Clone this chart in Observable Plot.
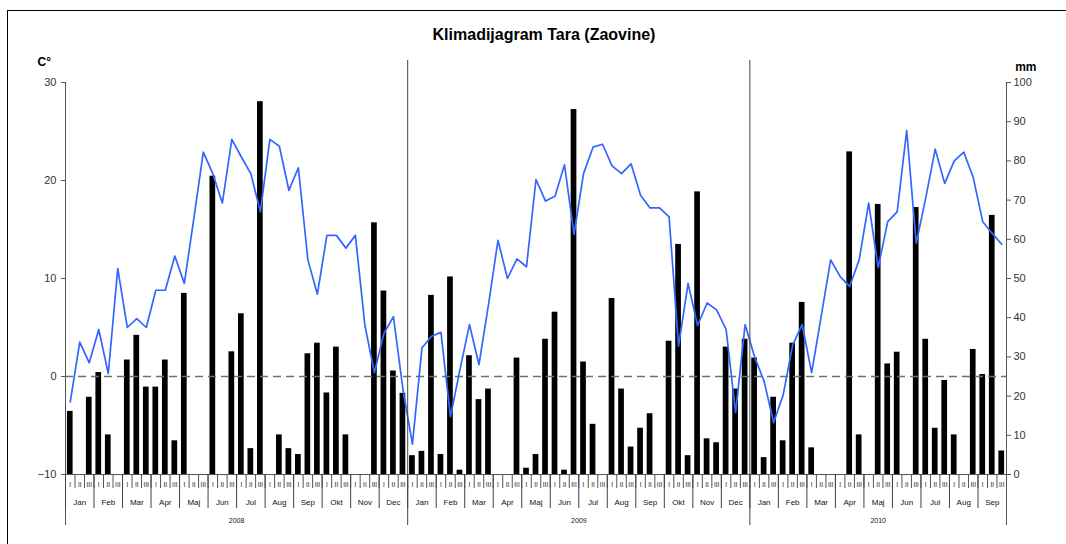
<!DOCTYPE html>
<html><head><meta charset="utf-8">
<script src="https://cdn.jsdelivr.net/npm/d3@7"></script>
<script src="https://cdn.jsdelivr.net/npm/@observablehq/plot@0.6"></script>
<style>
body{margin:0;background:#fff;overflow:hidden;width:1066px;height:544px;position:relative;font-family:"Liberation Sans",Arial,sans-serif;}
#frame{position:absolute;left:7px;top:10px;width:1100px;height:600px;border:1px solid #000;box-sizing:border-box;}
#title{position:absolute;top:26px;left:0;width:1088px;text-align:center;font-weight:bold;font-size:16px;color:#000;}
#chart{position:absolute;left:0;top:50px;}
</style></head><body>
<div id="frame"></div>
<div id="title">Klimadijagram Tara (Zaovine)</div>
<div id="chart"></div>
<script>
// Dekad (10-day) mean temperature, °C
const temp2008 = [-2.6,3.5,1.4, 4.8,0.3,11.0, 5.0,5.9,5.0, 8.8,8.8,12.3, 9.5,16.1,22.9, 20.7,17.7,24.2, 22.4,20.7,16.8, 24.2,23.5,19.0, 21.3,11.9,8.4, 14.4,14.4,13.1, 14.4,5.2,0.4, 4.4,6.1,-1.3];
const temp2009 = [-6.9,2.9,4.1, 4.5,-4.1,0.7, 5.3,1.2,7.3, 13.9,10.0,12.0, 11.2,20.1,17.9, 18.4,21.6,14.5, 20.7,23.4,23.7, 21.5,20.7,21.7, 18.5,17.2,17.2, 16.3,3.1,9.5, 5.2,7.5,6.8, 4.8,-3.7,5.3];
const temp2010 = [2.0,-0.5,-4.7, -1.9,3.2,5.3, 0.4,6.1,11.9, 10.2,9.2,11.9, 17.7,11.1,15.8, 16.8,25.1,13.6, 18.2,23.2,19.7, 22.0,22.9,20.3, 15.8,14.6,13.5];
// Dekad precipitation, mm
const prec2008 = [16.1,0,19.7, 26.0,10.1,0, 29.2,35.5,22.3, 22.3,29.2,8.6, 46.2,0,0, 76.1,0,31.3, 41.0,6.6,95.1, 0,10.1,6.6, 5.1,30.8,33.5, 20.8,32.5,10.1, 0,0,64.2, 46.8,26.4,20.7];
const prec2009 = [4.8,5.9,45.7, 5.1,50.4,1.1, 30.3,19.1,21.8, 0,0,29.7, 1.6,5.1,34.5, 41.4,1.1,93.1, 28.7,12.8,0, 44.9,21.8,7.0, 11.8,15.5,0, 34.0,58.7,4.8, 72.1,9.1,8.1, 32.5,21.8,34.5];
const prec2010 = [29.7,4.3,19.7, 8.6,33.5,43.9, 6.8,0,0, 0,82.3,10.1, 0,68.9,28.2, 31.2,0,68.1, 34.5,11.8,24.0, 10.1,0,31.9, 25.5,66.1,6.0];
// Axis labels
const monthNames = ["Jan","Feb","Mar","Apr","Maj","Jun","Jul","Aug","Sep","Okt","Nov","Dec"];
const dekadNames = ["I","II","III"];
const years = ["2008","2009","2010"];
const monthsPerYear = [12,12,9];
const tempTicks = [-10,0,10,20,30];
const mmTicks = [0,10,20,30,40,50,60,70,80,90,100];

const temps = [...temp2008, ...temp2009, ...temp2010];
const precs = [...prec2008, ...prec2009, ...prec2010];
const rows = temps.map((t, i) => ({i, t, mm: precs[i]}));
const N = rows.length;

const mmToT = mm => mm / 2.5 - 10;
const tToMm = t => Math.round((t + 10) * 2.5);
const PXT = 9.8; // pixels per °C
const below = px => -10 - px / PXT;
const above = px => 30 + px / PXT;

const months = [];
const yearInfo = [];
let m0 = 0;
years.forEach((y, yi) => {
  yearInfo.push({label: y, start: m0 * 3, len: monthsPerYear[yi] * 3});
  for (let k = 0; k < monthsPerYear[yi]; k++) { months.push({label: monthNames[k], start: m0 * 3}); m0++; }
});
const monthBounds = months.map(d => d.start);
const yearInner = yearInfo.slice(1).map(d => d.start);

const chart = Plot.plot({
  width: 1066, height: 490,
  marginLeft: 65, marginRight: 60, marginTop: 32, marginBottom: 66,
  style: {fontFamily: '"Liberation Sans", Arial, sans-serif', background: "transparent", overflow: "visible"},
  x: {type: "linear", domain: [0, N], axis: null},
  y: {domain: [-10, 30], axis: null},
  marks: [
    Plot.rect(rows.filter(d => d.mm > 0), {x1: d => d.i + 0.2, x2: d => d.i + 0.8, y1: -10, y2: d => mmToT(d.mm), fill: "#000"}),
    Plot.ruleY([0], {stroke: "#6f6f6f", strokeWidth: 1.3, strokeDasharray: "8,5"}),
    Plot.line(rows, {x: d => d.i + 0.5, y: "t", stroke: "#3366ff", strokeWidth: 1.7}),
    Plot.ruleY([-10], {x1: 0, x2: N, stroke: "#555"}),
    Plot.ruleX([0, N], {y1: 30, y2: below(51), stroke: "#555"}),
    Plot.ruleX(yearInner, {y1: above(22), y2: below(51), stroke: "#444"}),
    Plot.ruleX(d3.range(0, N + 1), {y1: -10, y2: below(14), stroke: "#555"}),
    Plot.ruleX(monthBounds, {y1: -10, y2: below(34), stroke: "#444"}),
    Plot.axisY({anchor: "left", label: null, ticks: tempTicks, tickSize: 4, tickPadding: 5, fontSize: 11, stroke: "#555", fill: "#333"}),
    Plot.axisY({anchor: "right", label: null, ticks: mmTicks.map(mmToT), tickFormat: tToMm, tickSize: 4, tickPadding: 3, fontSize: 11, stroke: "#555", fill: "#333"}),
    Plot.text(rows, {x: d => d.i + 0.5, y: -10, dy: 10, text: d => dekadNames[d.i % 3], fontSize: 6.5, fill: "#222"}),
    Plot.text(months, {x: d => d.start + 1.5, y: -10, dy: 28, text: "label", fontSize: 8, fill: "#111"}),
    Plot.text(yearInfo, {x: d => d.start + d.len / 2, y: -10, dy: 46, text: "label", fontSize: 7, fill: "#111"}),
    Plot.text(["C°"], {text: d => d, frameAnchor: "top-left", dx: -28, dy: -25, fontSize: 12, fontWeight: "bold", fill: "#000"}),
    Plot.text(["mm"], {text: d => d, frameAnchor: "top-right", dx: 30, dy: -20, fontSize: 12, fontWeight: "bold", fill: "#000"})
  ]
});
document.getElementById("chart").appendChild(chart);
</script>
</body></html>
